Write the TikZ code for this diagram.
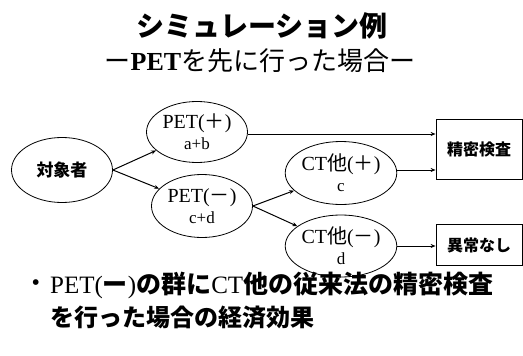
\documentclass[tikz,border=0pt]{standalone}
\usepackage{fontspec}
\setmainfont{Liberation Serif}
\newfontfamily\jp{Noto Sans CJK JP}
\usetikzlibrary{shapes.geometric,arrows.meta}
\begin{document}
\begin{tikzpicture}[x=1pt,y=-1pt,
  ell/.style={draw,ellipse,line width=0.8pt,inner sep=0pt,align=center,font=\fontsize{20}{21}\selectfont},
  boxnode/.style={draw,rectangle,line width=0.8pt,inner sep=0pt,font=\fontsize{16}{18}\selectfont\jp\bfseries},
  arr/.style={line width=1pt,-{Stealth[length=5pt,width=4pt]}}]
\useasboundingbox (0,0) rectangle (523,356);
% titles
\node (t1) at (262,26) {\fontsize{28}{30}\selectfont\jp\bfseries シミュレーション例};
\node (t2) at (260,61) {\fontsize{26}{28}\selectfont{\jp ー}\textbf{PET}{\jp を先に行った場合ー}};
% ellipses
\node[ell,minimum width=101pt,minimum height=65pt] (obj) at (62,170) {\fontsize{17}{19}\selectfont\jp\bfseries 対象者};
\node[ell,minimum width=101pt,minimum height=61pt] (pp) at (197,132) {PET({\jp ＋})\\{\fontsize{17}{18}\selectfont a+b}};
\node[ell,minimum width=101pt,minimum height=63pt] (pm) at (202,206) {PET({\jp －})\\{\fontsize{17}{18}\selectfont c+d}};
\node[ell,minimum width=103pt,minimum height=63pt] (cp) at (341,173) {CT{\jp 他}({\jp ＋})\\{\fontsize{17}{18}\selectfont c}};
\node[ell,minimum width=103pt,minimum height=62pt] (cm) at (341,246) {CT{\jp 他}({\jp －})\\{\fontsize{17}{18}\selectfont d}};
% boxes
\node[boxnode,minimum width=86pt,minimum height=60pt] (b1) at (479,149) {精密検査};
\node[boxnode,minimum width=86pt,minimum height=41pt] (b2) at (479,245) {異常なし};
% connectors
\draw[arr] (obj.east) -- (pp);
\draw[arr] (obj.east) -- (pm);
\draw[arr] ([yshift=-2pt]pp.east) -- ([yshift=-2pt]pp.east -| b1.west);
\draw[arr] (pm.east) -- (cp);
\draw[arr] (pm.east) -- (cm);
\draw[arr] ([yshift=3pt]cp.east) -- ([yshift=3pt]cp.east -| b1.west);
\draw[arr] (cm.east) -- (cm.east -| b2.west);
% bullet text
\node[anchor=west] (bul) at (28,285) {\fontsize{24}{26}\selectfont •};
\node[anchor=west,inner sep=0pt] (l1) at (50,285) {\fontsize{25}{26}\selectfont PET({\jp\bfseries ー}){\jp\bfseries の群に}CT{\jp\bfseries 他の従来法の精密検査}};
\node[anchor=west,inner sep=0pt] (l2) at (50,318) {\fontsize{24}{26}\selectfont\jp\bfseries を行った場合の経済効果};
\end{tikzpicture}
\end{document}
